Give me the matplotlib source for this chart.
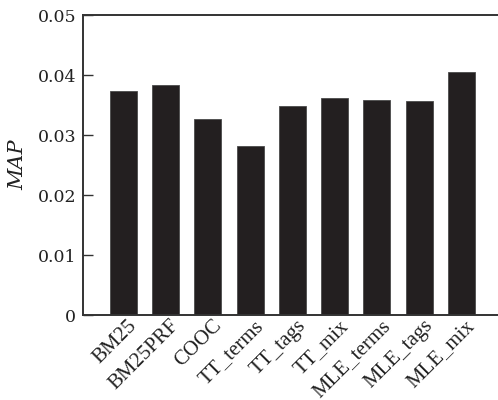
import matplotlib
matplotlib.use('Agg')
import matplotlib.pyplot as plt
import matplotlib.transforms as mtransforms

# MAP per retrieval method
methods = ['BM25', 'BM25PRF', 'COOC', 'TT_terms', 'TT_tags', 'TT_mix',
           'MLE_terms', 'MLE_tags', 'MLE_mix']
map_values = [0.0373, 0.0383, 0.0327, 0.0281, 0.0348, 0.0361, 0.0359, 0.0357, 0.0405]
yticks = [0, 0.01, 0.02, 0.03, 0.04, 0.05]
ytick_labels = ['0', '0.01', '0.02', '0.03', '0.04', '0.05']

fig = plt.figure(figsize=(4.98, 4.0), dpi=100)
ax = fig.add_axes([0.1667, 0.2125, 0.8333, 0.75])

ax.bar(range(len(methods)), map_values, width=0.64, color='#231f20',
       edgecolor='#4a4a4a', linewidth=0.6)

ax.set_ylim(0, 0.05)
ax.set_xlim(-0.96, 8.87)
ax.set_yticks(yticks)
ax.set_yticklabels(ytick_labels, family='DejaVu Serif', fontsize=12.5, color='#222222')
ax.tick_params(axis='y', direction='in', length=7, width=1, pad=5, color='#333333')

ax.set_xticks(range(len(methods)))
ax.set_xticklabels(methods, rotation=45, ha='right', va='top', rotation_mode='anchor',
                   family='Liberation Serif', fontsize=15, color='#222222')
ax.tick_params(axis='x', length=0, pad=1)
# nudge labels to the right, as in the original
shift = mtransforms.ScaledTranslation(3 / 72, 0, fig.dpi_scale_trans)
for lbl in ax.get_xticklabels():
    lbl.set_transform(lbl.get_transform() + shift)

ax.set_ylabel('MAP', family='DejaVu Serif', style='italic', fontsize=15, labelpad=7,
              color='#222222')

for side in ['left', 'bottom', 'top']:
    ax.spines[side].set_linewidth(1.4)
    ax.spines[side].set_color('#333333')
ax.spines['right'].set_visible(False)

fig.savefig('out.png', dpi=100)
